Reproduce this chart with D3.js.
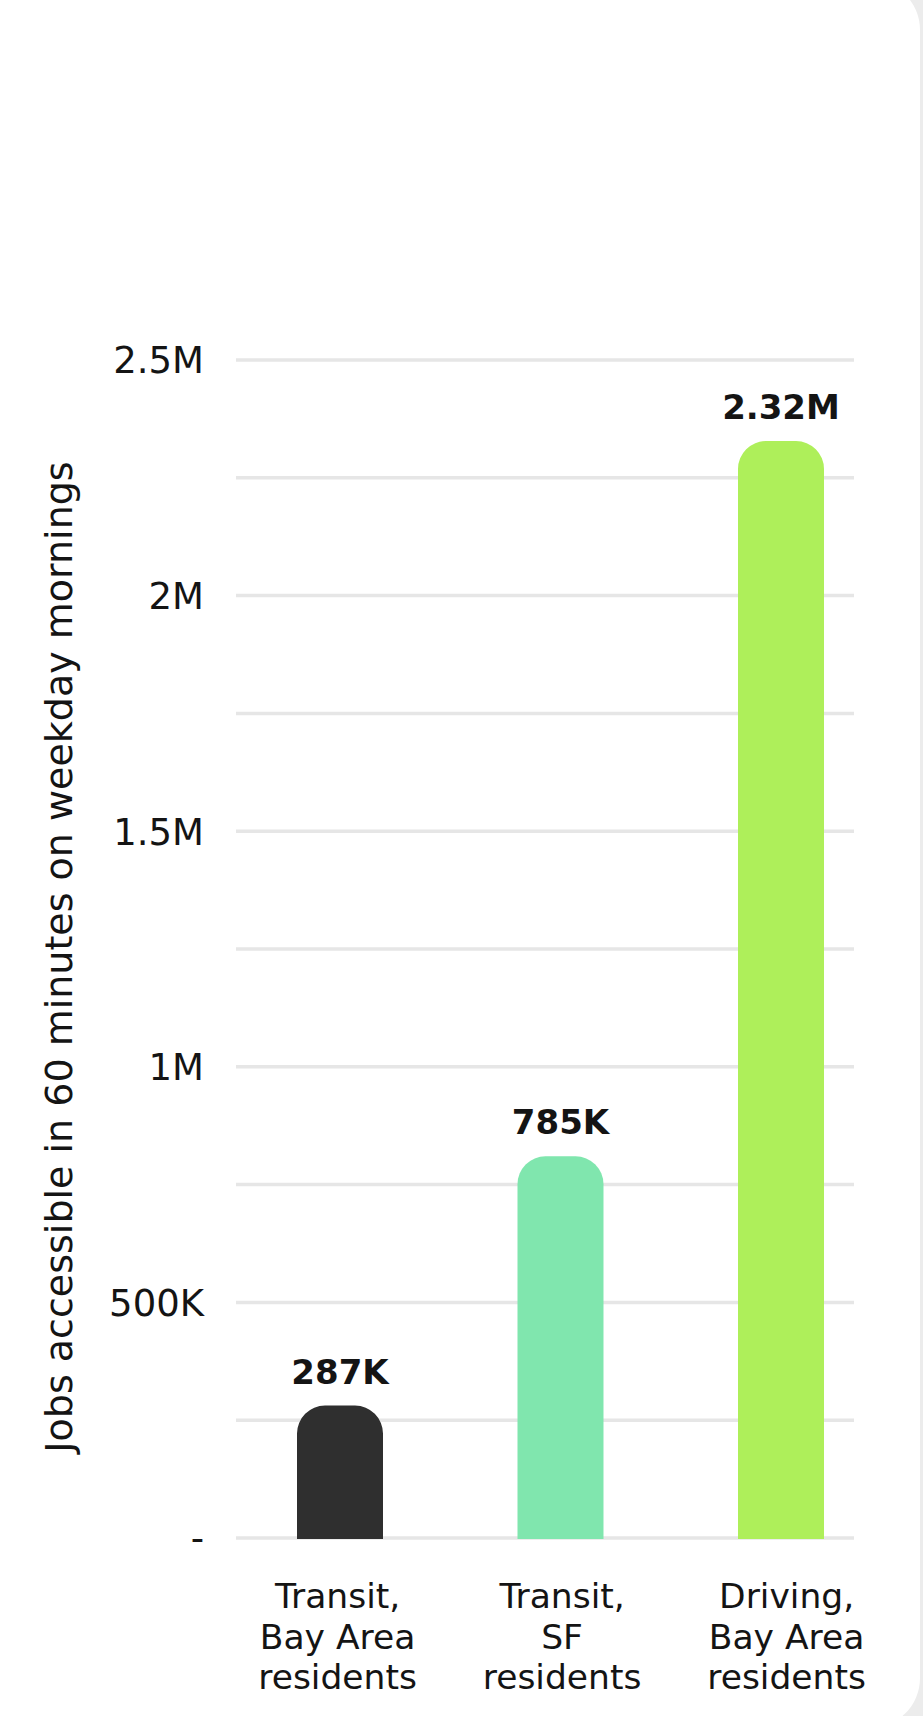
<!DOCTYPE html>
<html>
<head>
<meta charset="utf-8">
<script src="https://cdn.jsdelivr.net/npm/d3@7/dist/d3.min.js"></script>
<style>
  html, body { margin: 0; padding: 0; background: #ececec; }
  svg { display: block; }
  text { font-family: "DejaVu Sans", sans-serif; fill: #141414; }
</style>
</head>
<body>
<svg id="chart" width="923" height="1716"></svg>
<script>
// ---- data ----
const categories = [
  ["Transit,", "Bay Area", "residents"],
  ["Transit,", "SF", "residents"],
  ["Driving,", "Bay Area", "residents"]
];
const values = [281000, 810000, 2328000];
const valueLabels = ["287K", "785K", "2.32M"];
const barColors = ["#2f2f2f", "#80e6ae", "#aeef5a"];
const tickValues = [0, 250000, 500000, 750000, 1000000, 1250000, 1500000, 1750000, 2000000, 2250000, 2500000];
const tickLabels = {0: "-", 500000: "500K", 1000000: "1M", 1500000: "1.5M", 2000000: "2M", 2500000: "2.5M"};
const yTitle = "Jobs accessible in 60 minutes on weekday mornings";

// ---- layout ----
const svg = d3.select("#chart");

// card background
svg.append("rect")
  .attr("x", -20).attr("y", -20)
  .attr("width", 940).attr("height", 1748)
  .attr("rx", 50).attr("ry", 50)
  .attr("fill", "#ffffff");

const gridX0 = 236, gridX1 = 854;
const y = d3.scaleLinear().domain([0, 2500000]).range([1538, 360]);
const x = d3.scaleBand().domain(d3.range(categories.length)).range([297, 824]).paddingInner(0.61).paddingOuter(0);

// gridlines
svg.append("g").selectAll("line")
  .data(tickValues)
  .join("line")
  .attr("x1", gridX0).attr("x2", gridX1)
  .attr("y1", d => y(d)).attr("y2", d => y(d))
  .attr("stroke", "#e6e6e6")
  .attr("stroke-width", 3.5);

// y axis labels via d3 axis
const yAxis = d3.axisLeft(y)
  .tickValues(Object.keys(tickLabels).map(Number))
  .tickFormat(d => tickLabels[d])
  .tickSize(0)
  .tickPadding(0);
const gy = svg.append("g").attr("transform", "translate(204,0)").call(yAxis);
gy.select(".domain").remove();
gy.selectAll("text")
  .attr("font-family", "DejaVu Sans")
  .attr("font-size", 37)
  .attr("fill", "#141414")
  .attr("dy", "0.35em");

// y title
svg.append("text")
  .attr("transform", `translate(72,957) rotate(-90)`)
  .attr("text-anchor", "middle")
  .attr("font-size", 38)
  .text(yTitle);

// bars with rounded tops
function barPath(i) {
  const x0 = x(i), w = x.bandwidth();
  const yt = y(values[i]), yb = y(0) + 1;
  const r = Math.min(28, w / 2, (yb - yt) / 2);
  return `M${x0},${yb}V${yt + r}A${r},${r} 0 0 1 ${x0 + r},${yt}H${x0 + w - r}A${r},${r} 0 0 1 ${x0 + w},${yt + r}V${yb}Z`;
}
svg.append("g").selectAll("path")
  .data(values)
  .join("path")
  .attr("d", (d, i) => barPath(i))
  .attr("fill", (d, i) => barColors[i]);

// value labels
svg.append("g").selectAll("text")
  .data(values)
  .join("text")
  .attr("x", (d, i) => x(i) + x.bandwidth() / 2)
  .attr("y", d => y(d) - 22)
  .attr("text-anchor", "middle")
  .attr("font-weight", "bold")
  .attr("font-size", 34)
  .text((d, i) => valueLabels[i]);

// category labels
const cat = svg.append("g").selectAll("text")
  .data(categories)
  .join("text")
  .attr("text-anchor", "middle")
  .attr("font-size", 34.5);
cat.each(function(lines, i) {
  const t = d3.select(this);
  lines.forEach((ln, j) => {
    t.append("tspan")
      .attr("x", x(i) + x.bandwidth() / 2 + (i - 0.6) * 4)
      .attr("y", 1608 + j * 40.5)
      .text(ln);
  });
});
</script>
</body>
</html>
